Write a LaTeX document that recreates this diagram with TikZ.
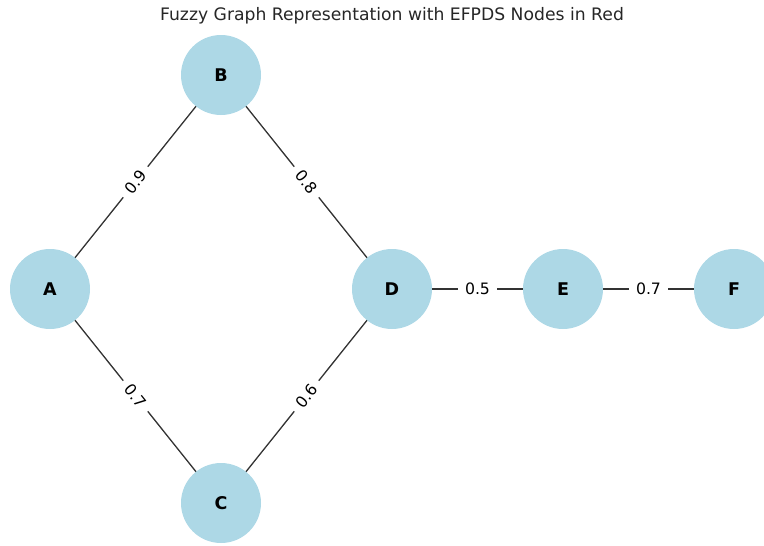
\documentclass[tikz,border=0pt]{standalone}
\usepackage{fontspec}
\setmainfont{DejaVu Sans}
\definecolor{nodeblue}{HTML}{ADD8E6}
\definecolor{edgegray}{HTML}{333333}
\definecolor{titlegray}{HTML}{262626}
\begin{document}
\begin{tikzpicture}[x=1pt,y=-1pt,
  vertex/.style={circle,fill=nodeblue,minimum size=80pt,inner sep=0pt,
    font=\fontsize{17.5}{17.5}\selectfont\bfseries},
  link/.style={draw=edgegray,line width=1.3pt},
  weight/.style={fill=white,inner xsep=7pt,inner ysep=2pt,
    font=\fontsize{15.7}{15.7}\selectfont,text=black}]
\useasboundingbox (0,0) rectangle (764,546);
\node[font=\fontsize{17.2}{17.2}\selectfont,text=titlegray] (title) at (392,16) {Fuzzy Graph Representation with EFPDS Nodes in Red};
% graph edges, drawn first so the nodes cover their ends
\coordinate (pA) at (50,289);
\coordinate (pB) at (221,75);
\coordinate (pC) at (221,503);
\coordinate (pD) at (392,289);
\coordinate (pE) at (563,289);
\coordinate (pF) at (734,289);
\draw[link] (pA) -- (pB) node[midway,weight,rotate=51.4] (wAB) {0.9};
\draw[link] (pB) -- (pD) node[midway,weight,rotate=-51.4] (wBD) {0.8};
\draw[link] (pA) -- (pC) node[midway,weight,rotate=-51.4] (wAC) {0.7};
\draw[link] (pC) -- (pD) node[midway,weight,rotate=51.4] (wCD) {0.6};
\draw[link] (pD) -- (pE) node[midway,weight] (wDE) {0.5};
\draw[link] (pE) -- (pF) node[midway,weight] (wEF) {0.7};
% vertices
\node[vertex] (A) at (pA) {A};
\node[vertex] (B) at (pB) {B};
\node[vertex] (C) at (pC) {C};
\node[vertex] (D) at (pD) {D};
\node[vertex] (E) at (pE) {E};
\node[vertex] (F) at (pF) {F};
\end{tikzpicture}
\end{document}
